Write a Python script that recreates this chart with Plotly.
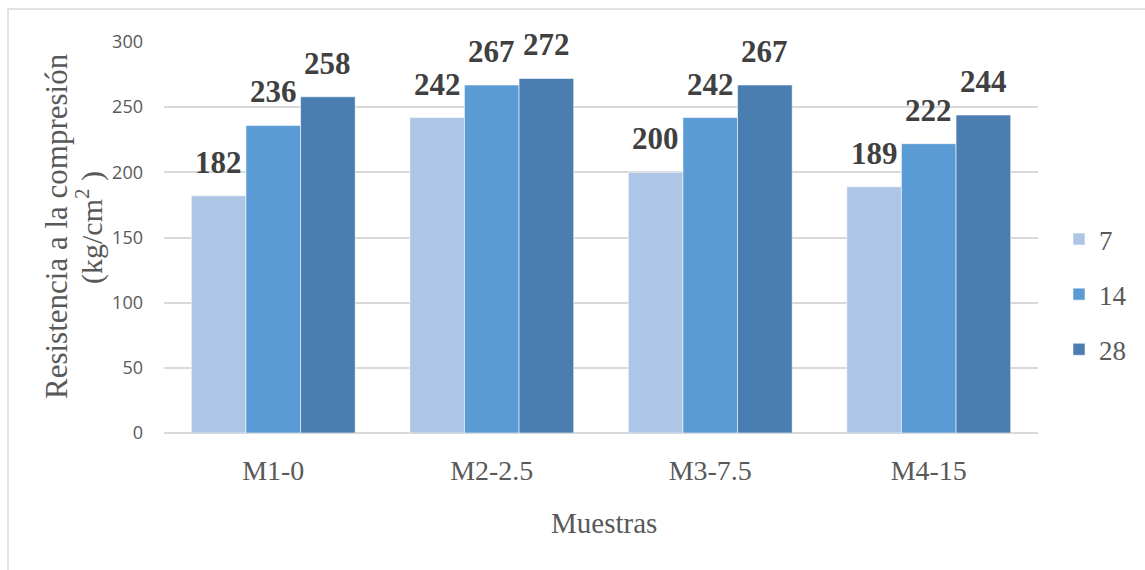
import plotly.graph_objects as go

# Compressive strength by sample and curing age (days)
muestras = ["M1-0", "M2-2.5", "M3-7.5", "M4-15"]
edades = ["7", "14", "28"]
dias_7 = [182, 242, 200, 189]
dias_14 = [236, 267, 242, 222]
dias_28 = [258, 272, 267, 244]
colores = ["#adc6e6", "#5b9bd5", "#4a7eb1"]
y_ticks = [0, 50, 100, 150, 200, 250, 300]

series = [dias_7, dias_14, dias_28]

W, H = 1145, 570
L, R, T, B = 164, 107, 42, 137
BARGAP = 0.25

fig = go.Figure()
for k, (nombre, valores, color) in enumerate(zip(edades, series, colores)):
    fig.add_trace(go.Bar(
        x=muestras, y=valores, name=nombre,
        marker=dict(color=color, line=dict(color="rgba(255,255,255,0.55)", width=1)),
        legendgroup=nombre,
        hoverinfo="x+y+name",
    ))

# value labels above each bar
ancho = (1 - BARGAP) / len(series)
anotaciones = []
for k, valores in enumerate(series):
    for i, v in enumerate(valores):
        anotaciones.append(dict(
            x=i + (k - (len(series) - 1) / 2) * ancho, y=v, xref="x", yref="y",
            text=f"<b>{v}</b>", showarrow=False, yanchor="bottom", yshift=14,
            font=dict(family="Liberation Serif", size=31, color="#404040"),
        ))

plot_w = W - L - R
plot_h = H - T - B
def px_x(px):
    return (px - L) / plot_w
def px_y(py):
    return (H - B - py) / plot_h

# axis titles
anotaciones += [
    dict(x=px_x(56), y=px_y(226), xref="paper", yref="paper",
         text="Resistencia a la compresión", textangle=-90, showarrow=False,
         xanchor="center", yanchor="middle",
         font=dict(family="Liberation Serif", size=31, color="#595959")),
    dict(x=px_x(89), y=px_y(228), xref="paper", yref="paper",
         text="(kg/cm<sup>2</sup> )", textangle=-90, showarrow=False,
         xanchor="center", yanchor="middle",
         font=dict(family="Liberation Serif", size=30, color="#595959")),
    dict(x=px_x(604), y=px_y(523), xref="paper", yref="paper",
         text="Muestras", showarrow=False, xanchor="center", yanchor="middle",
         font=dict(family="Liberation Serif", size=29, color="#595959")),
]

fig.update_layout(
    width=W, height=H,
    margin=dict(l=L, r=R, t=T, b=B, autoexpand=False),
    paper_bgcolor="white", plot_bgcolor="white",
    barmode="group", bargap=BARGAP, bargroupgap=0,
    showlegend=True,
    legend=dict(
        x=px_x(1059), y=px_y(215), xanchor="left", yanchor="top",
        font=dict(family="Liberation Serif", size=27, color="#595959"),
        tracegroupgap=17, bgcolor="rgba(0,0,0,0)",
    ),
    annotations=anotaciones,
    shapes=[dict(
        type="rect", xref="paper", yref="paper",
        x0=px_x(8), x1=px_x(1160), y0=px_y(9), y1=px_y(590),
        line=dict(color="#d9d9d9", width=1.5), fillcolor="rgba(0,0,0,0)", layer="below",
    )],
)

fig.update_xaxes(
    showline=False, showgrid=False, ticks="",
    ticklabelstandoff=18,
    tickfont=dict(family="Liberation Serif", size=28, color="#595959"),
)
fig.update_yaxes(
    range=[0, 300], tickvals=y_ticks, showgrid=True, gridcolor="#d9d9d9", gridwidth=1.5,
    zeroline=True, zerolinecolor="#d9d9d9", zerolinewidth=2,
    showline=False, ticks="", ticklabelstandoff=20,
    tickfont=dict(family="Open Sans", size=18, color="#595959"),
)

fig.write_html("out.html")
